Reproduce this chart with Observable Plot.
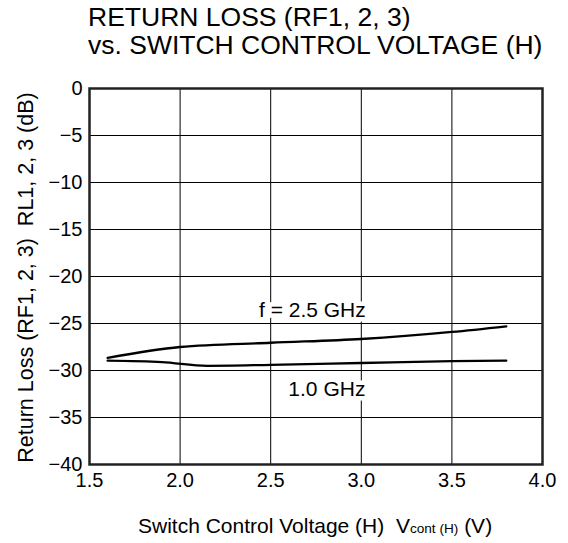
<!DOCTYPE html>
<html><head><meta charset="utf-8">
<script src="https://cdn.jsdelivr.net/npm/d3@7"></script>
<script src="https://cdn.jsdelivr.net/npm/@observablehq/plot@0.6"></script>
<style>body{margin:0;background:#fff} svg{display:block}</style>
</head><body><div id="chart"></div>
<script>
const titleLines = ["RETURN LOSS (RF1, 2, 3)", "vs. SWITCH CONTROL VOLTAGE (H)"];
const yLabel = "Return Loss (RF1, 2, 3)  RL1, 2, 3 (dB)";
const xLabelMain = "Switch Control Voltage (H)  V";
const xLabelSub = "cont (H)";
const xLabelEnd = " (V)";
const xTicks = [1.5, 2.0, 2.5, 3.0, 3.5, 4.0];
const yTicks = [0, -5, -10, -15, -20, -25, -30, -35, -40];

// f = 2.5 GHz
const volt25 = [1.6, 2.0, 2.5, 3.0, 3.5, 3.8];
const rl25 = [-28.65, -27.5, -27.05, -26.65, -25.9, -25.3];
// 1.0 GHz
const volt10 = [1.6, 1.9, 2.15, 2.5, 3.0, 3.5, 3.8];
const rl10 = [-28.95, -29.1, -29.5, -29.4, -29.2, -29.0, -28.95];

const seriesLabels = ["f = 2.5 GHz", "1.0 GHz"];
const labelVolt = [2.73, 2.81];
const labelRL = [-23.6, -32.0];

const data = [
  ...volt25.map((v, i) => ({v, rl: rl25[i], s: "2.5 GHz"})),
  ...volt10.map((v, i) => ({v, rl: rl10[i], s: "1.0 GHz"}))
];
const labels = seriesLabels.map((t, i) => ({t, v: labelVolt[i], rl: labelRL[i]}));

const font = "'Liberation Sans', Arial, Helvetica, sans-serif";

const chart = Plot.plot({
  width: 568,
  height: 543,
  marginLeft: 89,
  marginRight: 26,
  marginTop: 88,
  marginBottom: 79,
  style: {fontFamily: font, color: "#000", background: "#fff", overflow: "visible"},
  x: {domain: [1.5, 4.0]},
  y: {domain: [-40, 0]},
  marks: [
    Plot.gridX(xTicks.slice(1, -1), {stroke: "#000", strokeOpacity: 1, strokeWidth: 1}),
    Plot.gridY(yTicks.slice(1, -1), {stroke: "#000", strokeOpacity: 1, strokeWidth: 1}),
    Plot.text(labels, {x: "v", y: "rl", text: "t", fontSize: 21, fill: "#000", stroke: "#fff", strokeWidth: 9, strokeLinejoin: "miter", textAnchor: "middle", lineAnchor: "middle"}),
    Plot.line(data, {x: "v", y: "rl", z: "s", stroke: "#000", strokeWidth: 2.3, curve: "monotone-x"}),
    Plot.frame({stroke: "#222", strokeWidth: 2.5}),
    Plot.axisX(xTicks, {tickSize: 0, tickPadding: 8, tickFormat: d3.format(".1f"), fontSize: 20, label: null}),
    Plot.axisY(yTicks, {tickSize: 0, tickPadding: 7, tickFormat: d3.format("d"), fontSize: 20, label: null})
  ]
});

const svg = d3.select(chart);
titleLines.forEach((t, i) => {
  svg.append("text").attr("x", 88).attr("y", 26 + i * 28).attr("text-anchor", "start")
    .attr("font-size", 26.5).attr("font-family", font).attr("fill", "#000").text(t);
});
svg.append("text")
  .attr("transform", "translate(33,277.5) rotate(-90)")
  .attr("text-anchor", "middle").attr("font-size", 21.5).attr("font-family", font)
  .style("white-space", "pre").attr("fill", "#000").text(yLabel);
const xl = svg.append("text").attr("x", 138).attr("y", 533).attr("text-anchor", "start")
  .attr("font-size", 21).attr("font-family", font).style("white-space", "pre").attr("fill", "#000");
xl.append("tspan").text(xLabelMain);
xl.append("tspan").attr("font-size", 13.6).text(xLabelSub);
xl.append("tspan").text(xLabelEnd);

document.getElementById("chart").append(chart);
</script>
</body></html>
